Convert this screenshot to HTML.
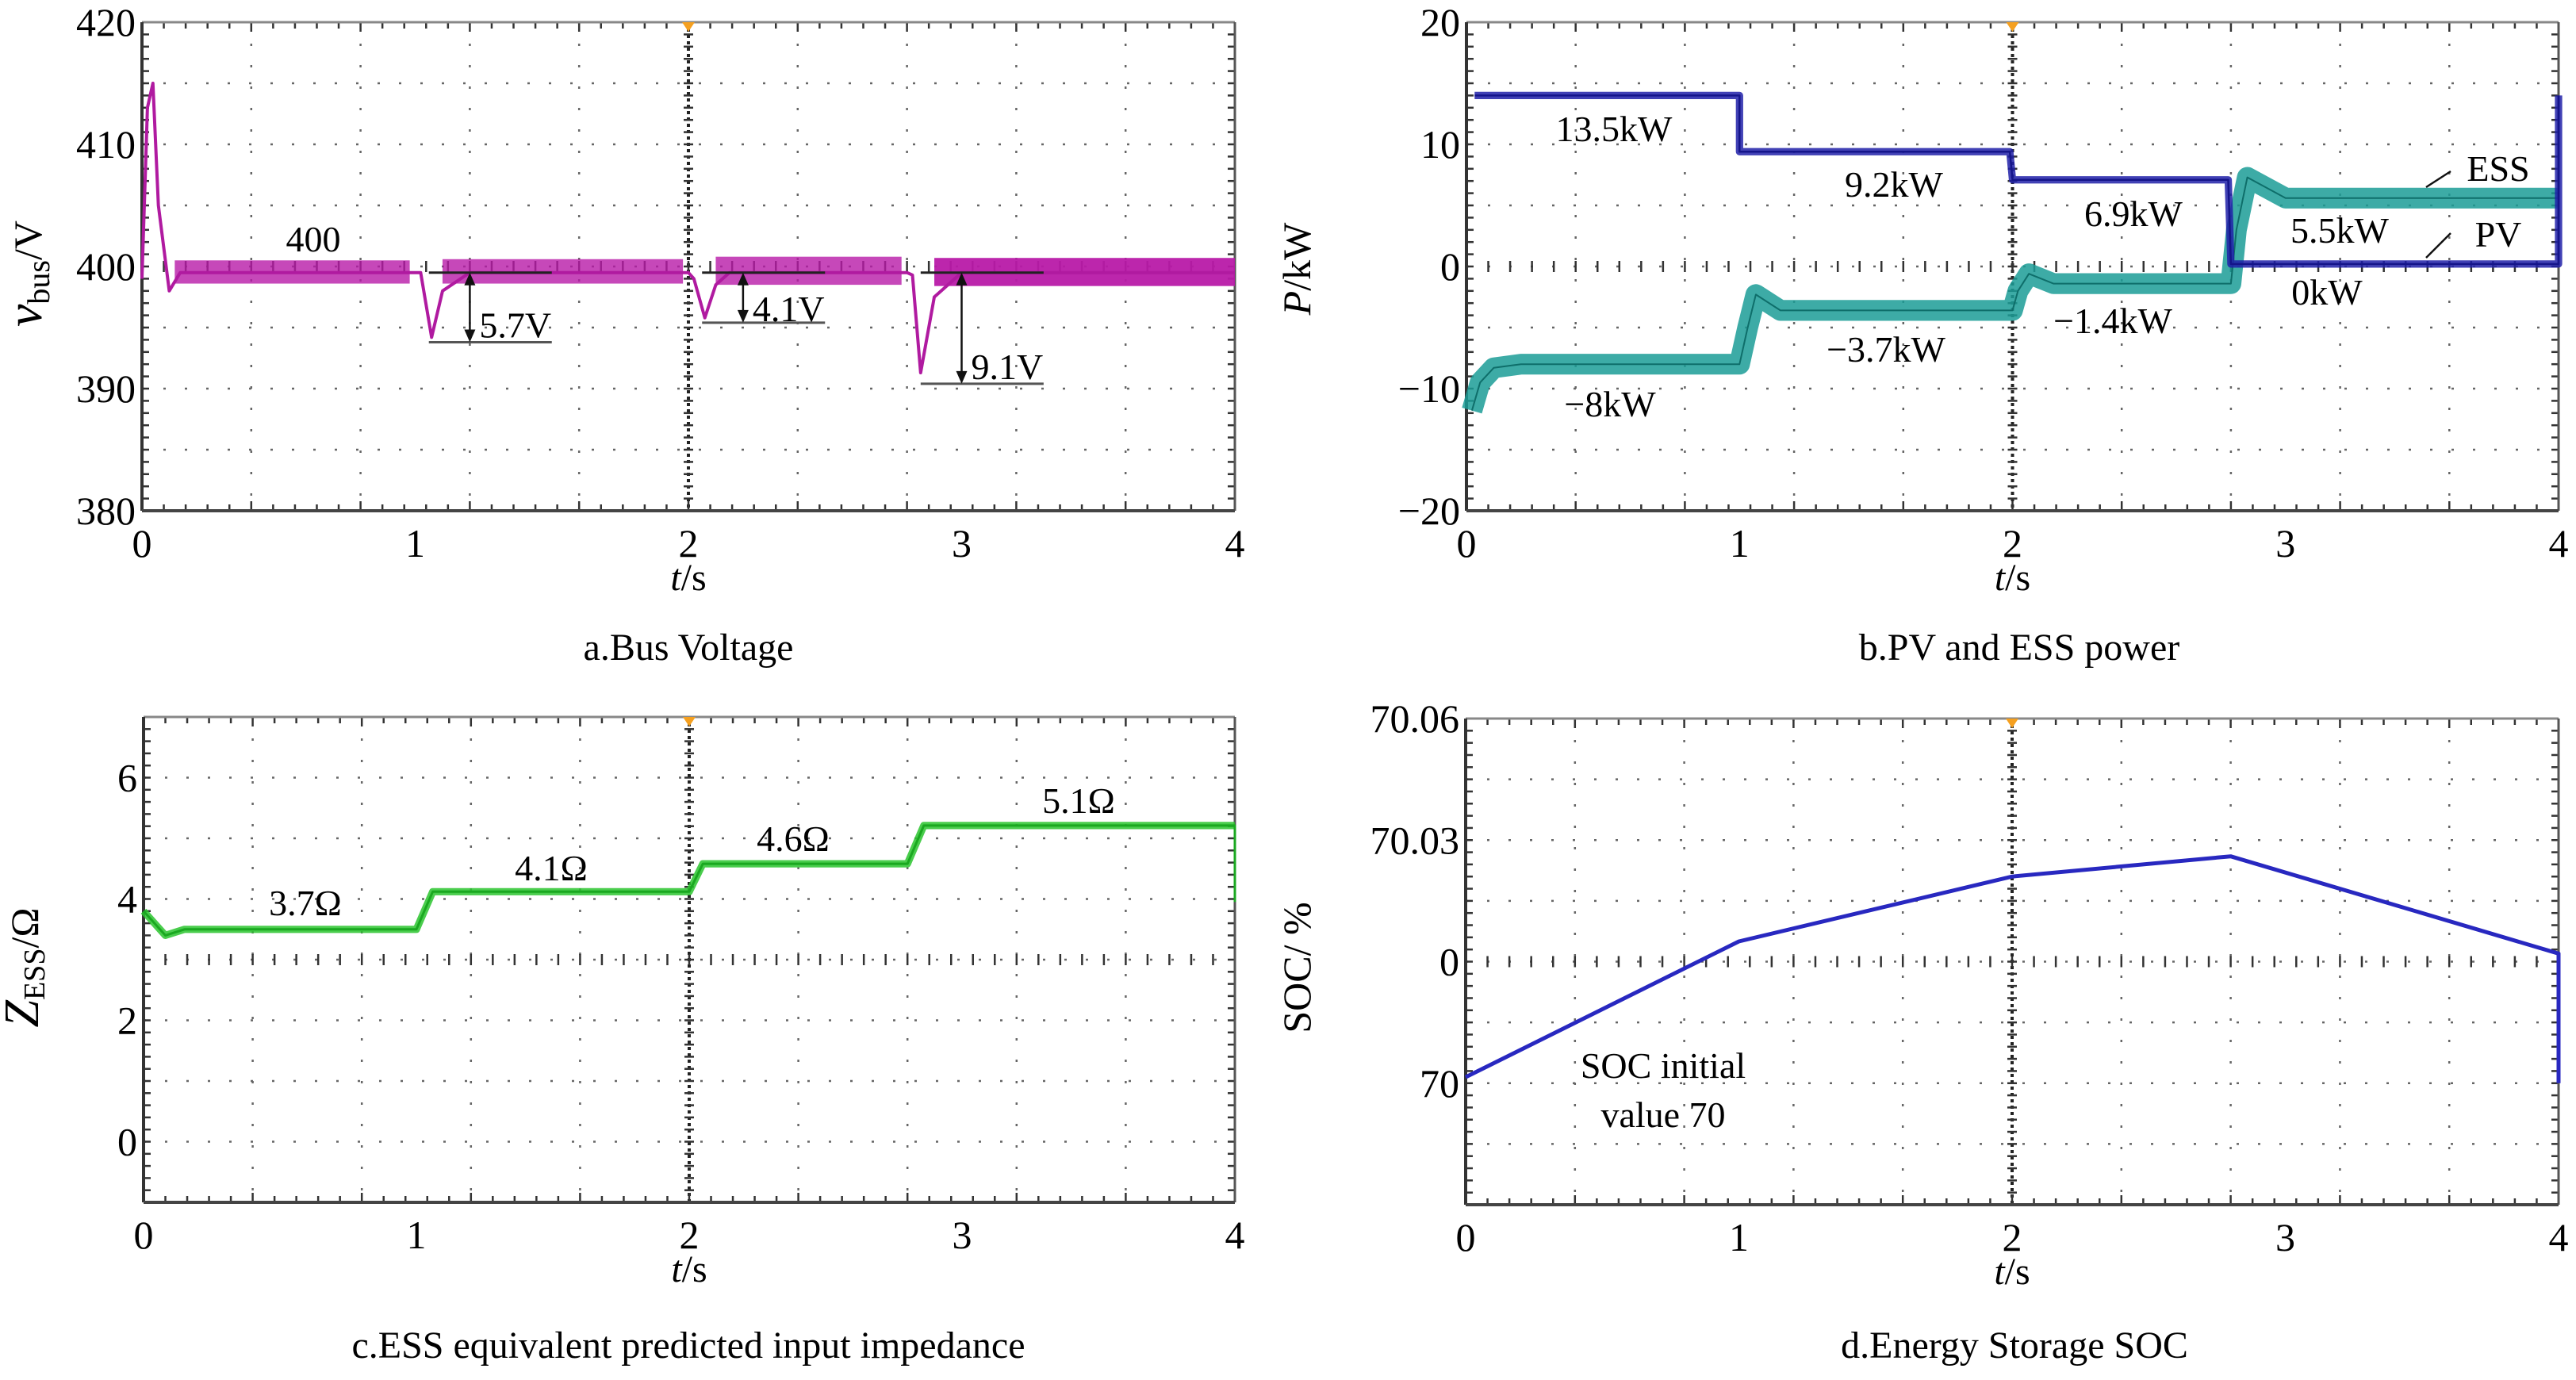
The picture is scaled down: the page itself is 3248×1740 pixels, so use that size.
<!DOCTYPE html>
<html><head><meta charset="utf-8">
<style>
html,body{margin:0;padding:0;background:#fff;}
svg{display:block;font-family:"Liberation Serif",serif;}
</style></head>
<body>
<svg id="fig" width="3248" height="1740" viewBox="0 0 3248 1740" xmlns="http://www.w3.org/2000/svg"></svg>
<script>
// ---- Panel a: bus voltage ----
const aTicksY = [380, 390, 400, 410, 420];
const aTime = [0, 0.02, 0.04, 0.06, 0.1, 0.14, 0.2, 1.0, 1.02, 1.06, 1.1, 1.2, 2.0, 2.02, 2.06, 2.1, 2.15, 2.8, 2.82, 2.85, 2.9, 3.0, 4.0];
const aVolt = [399, 413, 415, 405, 398, 399.5, 399.5, 399.5, 399.5, 394.2, 398, 399.5, 399.5, 399, 395.8, 398.5, 399.5, 399.5, 399.3, 391.3, 397.5, 399.5, 399.5];
const aRippleStart = [0.12, 1.1, 2.1, 2.9];
const aRippleEnd = [0.98, 1.98, 2.78, 4.0];
const aRippleLo = [398.6, 398.6, 398.5, 398.4];
const aRippleHi = [400.5, 400.6, 400.8, 400.7];
const aDropStart = [1.05, 2.05, 2.85];
const aDropEnd = [1.5, 2.5, 3.3];
const aDropArrowT = [1.2, 2.2, 3.0];
const aDropValue = [5.7, 4.1, 9.1];
const aNominal = 399.5;
// ---- Panel b: PV and ESS power ----
const bTicksY = [-20, -10, 0, 10, 20];
const bPvTime = [0.03, 1.0, 1.0, 1.99, 2.0, 2.79, 2.8, 4.0, 4.0];
const bPvPower = [14, 14, 9.4, 9.4, 7.1, 7.1, 0.2, 0.2, 14];
const bEssTime = [0.02, 0.05, 0.1, 0.2, 1.0, 1.03, 1.06, 1.15, 2.0, 2.02, 2.06, 2.15, 2.8, 2.82, 2.86, 3.0, 4.0];
const bEssPower = [-11.8, -9.5, -8.3, -8, -8, -5, -2.3, -3.6, -3.6, -2, -0.6, -1.4, -1.4, 3, 7.3, 5.6, 5.6];
// ---- Panel c: impedance ----
const cTicksY = [0, 2, 4, 6];
const cTime = [0, 0.08, 0.15, 1.0, 1.06, 2.0, 2.05, 2.8, 2.86, 4.0, 4.0];
const cImp = [3.8, 3.4, 3.5, 3.5, 4.12, 4.12, 4.58, 4.58, 5.21, 5.21, 3.95];
// ---- Panel d: SOC ----
const dTickVals = [70.06, 70.03, 70.0, 69.97];
const dTickLabels = ['70.06', '70.03', '0', '70'];
const dTime = [0, 1.0, 2.0, 2.8, 4.0, 4.0];
const dSoc = [69.9715, 70.005, 70.021, 70.026, 70.002, 69.97];
const xTicks = [0, 1, 2, 3, 4];

const NS = 'http://www.w3.org/2000/svg';
const svg = document.getElementById('fig');
function el(tag, attrs, parent, text) {
  const e = document.createElementNS(NS, tag);
  for (const k in attrs) e.setAttribute(k, attrs[k]);
  if (text !== undefined) e.textContent = text;
  (parent || svg).appendChild(e);
  return e;
}
function makePanel(name, x0, y0, x1, y1, ymin, ymax) {
  const g = el('g', {});
  
  
  const P = {g, x0, y0, x1, y1,
    sx: t => x0 + (t / 4) * (x1 - x0),
    sy: v => y1 - (v - ymin) / (ymax - ymin) * (y1 - y0)};
  const W = x1 - x0, H = y1 - y0;
  const grid = el('g', {}, g);
  
  
  for (let i = 1; i < 10; i++) {
    const x = x0 + W * i / 10;
    el('line', {x1: x, y1: y0, x2: x, y2: y1, stroke: i === 5 ? '#222' : '#666', 'stroke-width': i === 5 ? 4 : 2.5, 'stroke-dasharray': i === 5 ? '4 4' : '3 24'}, grid);
  }
  for (let j = 1; j < 8; j++) {
    const y = y0 + H * j / 8;
    el('line', {x1: x0, y1: y, x2: x1, y2: y, stroke: '#666', 'stroke-width': 2.5, 'stroke-dasharray': '3 24'}, grid);
  }
  // minor ticks
  for (let i = 0; i <= 50; i++) {
    const x = x0 + W * i / 50;
    const L = i % 5 === 0 ? 12 : 8;
    el('line', {x1: x, y1: y1, x2: x, y2: y1 - L, stroke: '#333', 'stroke-width': 2.5}, grid);
    el('line', {x1: x, y1: y0, x2: x, y2: y0 + L, stroke: '#333', 'stroke-width': 2.5}, grid);
    el('line', {x1: x, y1: y0 + H / 2 - 7, x2: x, y2: y0 + H / 2 + 7, stroke: '#333', 'stroke-width': 2.5}, grid);
  }
  for (let j = 0; j <= 40; j++) {
    const y = y0 + H * j / 40;
    el('line', {x1: x0, y1: y, x2: x0 + 9, y2: y, stroke: '#333', 'stroke-width': 2.5}, grid);
    el('line', {x1: x1, y1: y, x2: x1 - 9, y2: y, stroke: '#333', 'stroke-width': 2.5}, grid);
    el('line', {x1: x0 + W / 2 - 6, y1: y, x2: x0 + W / 2 + 6, y2: y, stroke: '#333', 'stroke-width': 2.5}, grid);
  }
  el('line', {x1: x0, y1: y0, x2: x1, y2: y0, stroke: '#888', 'stroke-width': 3}, g);
  el('line', {x1: x1, y1: y0, x2: x1, y2: y1, stroke: '#555', 'stroke-width': 3}, g);
  el('line', {x1: x0, y1: y0, x2: x0, y2: y1, stroke: '#333', 'stroke-width': 4}, g);
  el('line', {x1: x0, y1: y1, x2: x1, y2: y1, stroke: '#444', 'stroke-width': 4}, g);
  const m = el('path', {d: `M${P.sx(2) - 8},${y0} L${P.sx(2) + 8},${y0} L${P.sx(2)},${y0 + 12} Z`, fill: '#f5a020'}, g);
  
  
  const xl = el('g', {}, g);
  
  
  xTicks.forEach(t => el('text', {x: P.sx(t), y: y1 + 58, 'text-anchor': 'middle', 'font-size': 50}, xl, String(t)));
  const xt = el('text', {x: P.sx(2), y: y1 + 100, 'text-anchor': 'middle', 'font-size': 48}, g);
  
  
  el('tspan', {'font-style': 'italic'}, xt, 't');
  el('tspan', {}, xt, '/s');
  return P;
}
function yLabels(P, vals, labels) {
  const gl = el('g', {}, P.g);
  
  
  vals.forEach((v, i) => el('text', {x: P.x0 - 8, y: P.sy(v) + 17, 'text-anchor': 'end', 'font-size': 50}, gl, labels[i]));
}
function line(P, ts, vs, color, w, name) {
  const pts = ts.map((t, i) => P.sx(t).toFixed(1) + ',' + P.sy(vs[i]).toFixed(1)).join(' ');
  const l = el('polyline', {points: pts, fill: 'none', stroke: color, 'stroke-width': w, 'stroke-linejoin': 'round'}, P.g);
  
  
  return l;
}
function band(P, ts, vs, amp, color, name) {
  const l = line(P, ts, vs, color, Math.abs(P.sy(0) - P.sy(amp)) * 2, name);
  l.setAttribute('stroke-opacity', '0.85');
}
function label(P, x, y, txt, name, size) {
  const t = el('text', {x, y, 'text-anchor': 'middle', 'font-size': size || 46}, P.g, txt);
  
  
  return t;
}
function caption(x, y, txt, name) {
  const t = el('text', {x, y, 'text-anchor': 'middle', 'font-size': 48}, svg, txt);
  
  
}
function yTitle(x, y, parts, name) {
  const t = el('text', {x, y, 'text-anchor': 'middle', transform: `rotate(-90 ${x} ${y})`, 'font-size': 50}, svg);
  
  
  parts.forEach(p => el('tspan', p[1], t, p[0]));
}

// Panel a
const A = makePanel('panel-bus-voltage', 179, 28, 1557, 644, 380, 420);
yLabels(A, aTicksY, aTicksY.map(String));
aRippleStart.forEach((s, i) => {
  const x0 = A.sx(s), x1 = A.sx(aRippleEnd[i]);
  const r = el('rect', {x: x0, y: A.sy(aRippleHi[i]), width: x1 - x0, height: A.sy(aRippleLo[i]) - A.sy(aRippleHi[i]), fill: '#b81aa8', 'fill-opacity': i === 3 ? 0.95 : 0.8}, A.g);
  
  
});
line(A, aTime, aVolt, '#b01aa0', 4, 'bus-voltage-line');
aDropStart.forEach((s, i) => {
  const x0 = A.sx(s), x1 = A.sx(aDropEnd[i]), xa = A.sx(aDropArrowT[i]);
  const yt = A.sy(aNominal), yb = A.sy(aNominal - aDropValue[i]);
  const g = el('g', {}, A.g);
  
  
  el('line', {x1: x0, y1: yt, x2: x1, y2: yt, stroke: '#222', 'stroke-width': 3}, g);
  el('line', {x1: x0, y1: yb, x2: x1, y2: yb, stroke: '#555', 'stroke-width': 3}, g);
  el('line', {x1: xa, y1: yt + 10, x2: xa, y2: yb - 10, stroke: '#111', 'stroke-width': 2.5}, g);
  el('path', {d: `M${xa - 7},${yt + 16} L${xa + 7},${yt + 16} L${xa},${yt} Z`, fill: '#111'}, g);
  el('path', {d: `M${xa - 7},${yb - 16} L${xa + 7},${yb - 16} L${xa},${yb} Z`, fill: '#111'}, g);
  el('text', {x: xa + 12, y: (i === 1 ? yb - 2 : yb - 6), 'font-size': 46}, g, aDropValue[i].toFixed(1) + 'V');
});
label(A, 395, 317, '400', 'nominal-voltage-label');
yTitle(52, 345, [['v', {'font-style': 'italic', 'font-size': 64}], ['bus', {'font-size': 40, dy: 10}], ['/V', {dy: -10}]], 'y-axis-title-a');
caption(868, 832, 'a.Bus Voltage', 'caption-a');

// Panel b
const B = makePanel('panel-pv-ess-power', 1849, 28, 3226, 644, -20, 20);
yLabels(B, bTicksY, bTicksY.map(v => v < 0 ? '\u2212' + (-v) : String(v)));
band(B, bEssTime, bEssPower, 0.85, '#1b9c97', 'ess-power-ripple');
line(B, bEssTime, bEssPower, '#0e6e6a', 2, 'ess-power-line');
band(B, bPvTime, bPvPower, 0.3, '#2020a8', 'pv-power-ripple');
line(B, bPvTime, bPvPower, '#15158a', 2.5, 'pv-power-line');
[[2035, 178, '13.5kW'], [2388, 248, '9.2kW'], [2690, 285, '6.9kW'], [2950, 306, '5.5kW'], [2934, 384, '0kW'],
 [2664, 420, '\u22121.4kW'], [2378, 456, '\u22123.7kW'], [2030, 525, '\u22128kW'], [3150, 228, 'ESS'], [3150, 311, 'PV']]
 .forEach(a => label(B, a[0], a[1], a[2], 'power-value-label'));
[[3059, 236, 3090, 216], [3059, 325, 3090, 294]].forEach(s => {
  const l = el('line', {x1: s[0], y1: s[1], x2: s[2], y2: s[3], stroke: '#111', 'stroke-width': 2.5}, B.g);
  
  
});
yTitle(1652, 339, [['P', {'font-style': 'italic'}], ['/kW', {}]], 'y-axis-title-b');
caption(2546, 832, 'b.PV and ESS power', 'caption-b');

// Panel c
const C = makePanel('panel-ess-impedance', 181, 904, 1557, 1516, -1, 7);
yLabels(C, cTicksY, cTicksY.map(String));
band(C, cTime.slice(0, 10), cImp.slice(0, 10), 0.06, '#2ac42e', 'impedance-ripple');
line(C, cTime, cImp, '#1aa820', 3, 'impedance-line');
[[385, 1154, '3.7\u03a9'], [695, 1110, '4.1\u03a9'], [1000, 1073, '4.6\u03a9'], [1360, 1025, '5.1\u03a9']]
 .forEach(a => label(C, a[0], a[1], a[2], 'impedance-value-label'));
yTitle(48, 1220, [['Z', {'font-style': 'italic', 'font-size': 62}], ['ESS', {'font-size': 38, dy: 8}], ['/\u03a9', {dy: -8}]], 'y-axis-title-c');
caption(868, 1712, 'c.ESS equivalent predicted input impedance', 'caption-c');

// Panel d
const D = makePanel('panel-soc', 1848, 906, 3226, 1519, 69.94, 70.06);
yLabels(D, dTickVals, dTickLabels);
line(D, dTime, dSoc, '#2828c0', 5, 'soc-line');
label(D, 2097, 1359, 'SOC initial', 'soc-note-line1');
label(D, 2097, 1421, 'value 70', 'soc-note-line2');
yTitle(1652, 1220, [['SOC/ %', {}]], 'y-axis-title-d');
caption(2540, 1712, 'd.Energy Storage SOC', 'caption-d');
</script>
</body></html>
